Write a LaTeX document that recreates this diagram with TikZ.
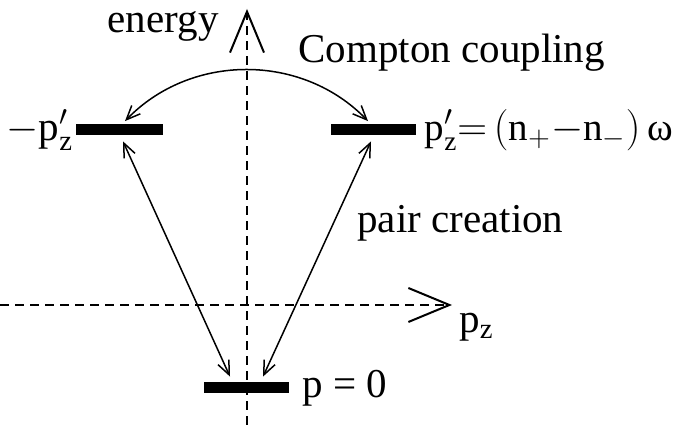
\documentclass[tikz,border=0pt]{standalone}
\usepackage{fontspec}
\setmainfont{Liberation Serif}
\usetikzlibrary{arrows.meta, positioning, calc}
\tikzset{
  axis/.style={line width=1.25bp, dash pattern=on 4.5bp off 3bp, -{Straight Barb[length=20.5bp, width=17bp, line width=1bp]}},
  level/.style={rectangle, fill=black, inner sep=0pt, minimum height=5.5bp},
  coupling/.style={line width=0.75bp, {Straight Barb[length=7bp, width=6bp]}-{Straight Barb[length=7bp, width=6bp]}},
  lab/.style={inner sep=2bp, font=\fontsize{20.5bp}{25bp}\selectfont},
}

\begin{document}
\begin{tikzpicture}[x=0.5bp, y=0.5bp]
  \useasboundingbox (0,0) rectangle (675,425);
  % axes
  \coordinate (eorig) at (247,0);
  \coordinate (etip) at (247,416);
  \coordinate (porig) at (0,120);
  \coordinate (ptip) at (452,120);
  \draw[axis] (eorig) -- (etip);
  \draw[axis] (porig) -- (ptip);
  % levels
  \node[level, minimum width=43.5bp] (lbar) at (119.5,295) {};
  \node[level, minimum width=42.5bp] (rbar) at (373.5,295) {};
  \node[level, minimum width=42.5bp] (zbar) at (246.5,37) {};
  \node[lab, inner sep=1bp, left=0pt of lbar] (llab) {${-}\mathrm{p}'_{\mathrm{z}}$};
  \node[lab, inner sep=1bp, right=3bp of rbar, font=\fontsize{19.5bp}{24bp}\selectfont] (rlab) {$\mathrm{p}'_{\mathrm{z}}{=}\,(\mathrm{n}_{+}{-}\mathrm{n}_{-})\,$ω};
  \node[lab, right=4.5bp of zbar] (zlab) {p = 0};
  \node[lab, anchor=north west] (pzlab) at ($(ptip)+(3,-4)$) {p$_{\mathrm{z}}$};
  % texts
  \node[lab, anchor=base east] (elab) at (223,392) {energy};
  \node[lab, anchor=base west] (clab) at (294,362) {Compton coupling};
  \node[lab, anchor=base west] (plab) at (353,192) {pair creation};
  % transitions
  \draw[coupling] ($(lbar.north)+(5.5,3)$) to[bend left=46] ($(rbar.north)+(-5.5,3)$);
  \draw[coupling] ($(lbar.south)+(3.5,-5.5)$) -- ($(zbar.north)+(-16.5,5.5)$);
  \draw[coupling] ($(rbar.south)+(-2.5,-5.5)$) -- ($(zbar.north)+(16.5,5.5)$);
\end{tikzpicture}
\end{document}
